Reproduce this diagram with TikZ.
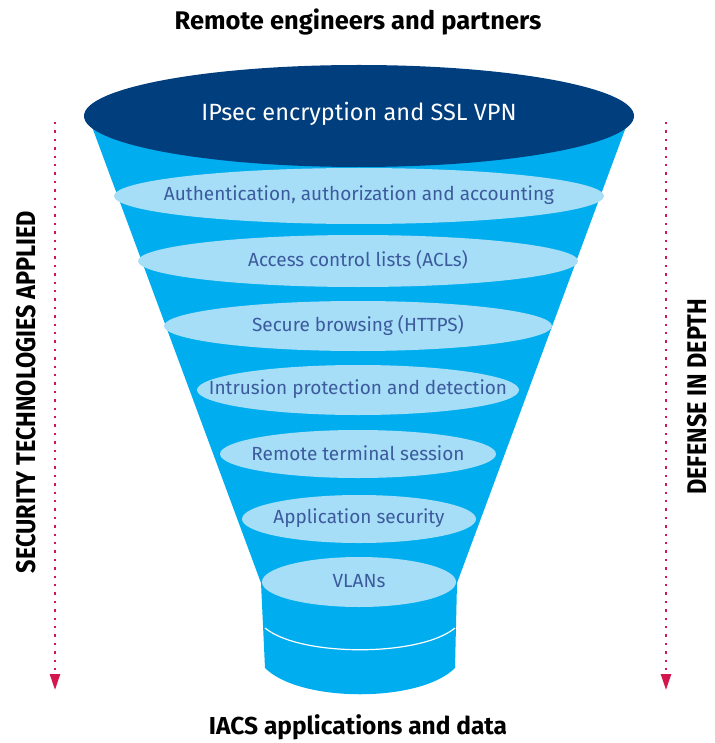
\documentclass[tikz,border=0pt]{standalone}
\usepackage{fontspec}
\setmainfont{Fira Sans}
\newfontfamily\condfont[FakeStretch=0.87]{Fira Sans}
\usetikzlibrary{arrows.meta}
\definecolor{funnelblue}{HTML}{00AEEF}
\definecolor{layerblue}{HTML}{A6DEF8}
\definecolor{topblue}{HTML}{003E7E}
\definecolor{layertext}{HTML}{3C5A9C}
\definecolor{arrowred}{HTML}{D4164E}
\tikzset{
  layer/.style={text=layertext,font=\fontsize{19}{22}\selectfont},
  heading/.style={font=\fontsize{25.5}{30}\selectfont\bfseries},
  sidelabel/.style={rotate=90,font=\fontsize{27}{30}\selectfont\condfont\bfseries},
  sidearrow/.style={arrowred,line width=2.4pt,dash pattern=on 2.4pt off 6pt,-{Triangle[width=10pt,length=16pt]}}
}
\begin{document}
\begin{tikzpicture}[x=1pt,y=-1pt]
\useasboundingbox (0,0) rectangle (714,743);
\fill[funnelblue] (88,116) -- (630,116) -- (457,583) -- (261,583) -- cycle;
\fill[funnelblue] (261,583) -- (265,668) .. controls (300,703) and (420,703) .. (455,668) -- (457,583) -- cycle;
\draw[white,line width=1.2pt] (265,628) .. controls (300,657) and (420,657) .. (455,628);
\fill[topblue] (359,116) ellipse [x radius=275, y radius=51];
\fill[layerblue] (359,196) ellipse [x radius=245, y radius=28];
\fill[layerblue] (358,261) ellipse [x radius=220, y radius=26];
\fill[layerblue] (358,326) ellipse [x radius=194, y radius=25];
\fill[layerblue] (358,390) ellipse [x radius=161, y radius=25];
\fill[layerblue] (358,454) ellipse [x radius=138, y radius=24];
\fill[layerblue] (359,519) ellipse [x radius=117, y radius=24];
\fill[layerblue] (359,582) ellipse [x radius=97, y radius=25];
\node[text=white,font=\fontsize{23.5}{28}\selectfont] (ipsec) at (359,114) {IPsec encryption and SSL VPN};
\node[layer] (aaa) at (359,195) {Authentication, authorization and accounting};
\node[layer] (acl) at (358,260) {Access control lists (ACLs)};
\node[layer] (https) at (358,325) {Secure browsing (HTTPS)};
\node[layer] (ips) at (358,389) {Intrusion protection and detection};
\node[layer] (rts) at (358,453) {Remote terminal session};
\node[layer] (appsec) at (359,518) {Application security};
\node[layer] (vlan) at (359,581) {VLANs};
\node[heading] (remote) at (358,22) {Remote engineers and partners};
\node[heading,font=\fontsize{24.5}{29}\selectfont\bfseries] (iacs) at (358,727) {IACS applications and data};
\coordinate (ltop) at (55,122);
\coordinate (lbot) at (55,690);
\coordinate (rtop) at (666,122);
\coordinate (rbot) at (666,690);
\draw[sidearrow] (ltop) -- (lbot);
\draw[sidearrow] (rtop) -- (rbot);
\node[sidelabel] (sec) at (26,392) {SECURITY TECHNOLOGIES APPLIED};
\node[sidelabel] (did) at (697,397) {DEFENSE IN DEPTH};
\end{tikzpicture}
\end{document}
